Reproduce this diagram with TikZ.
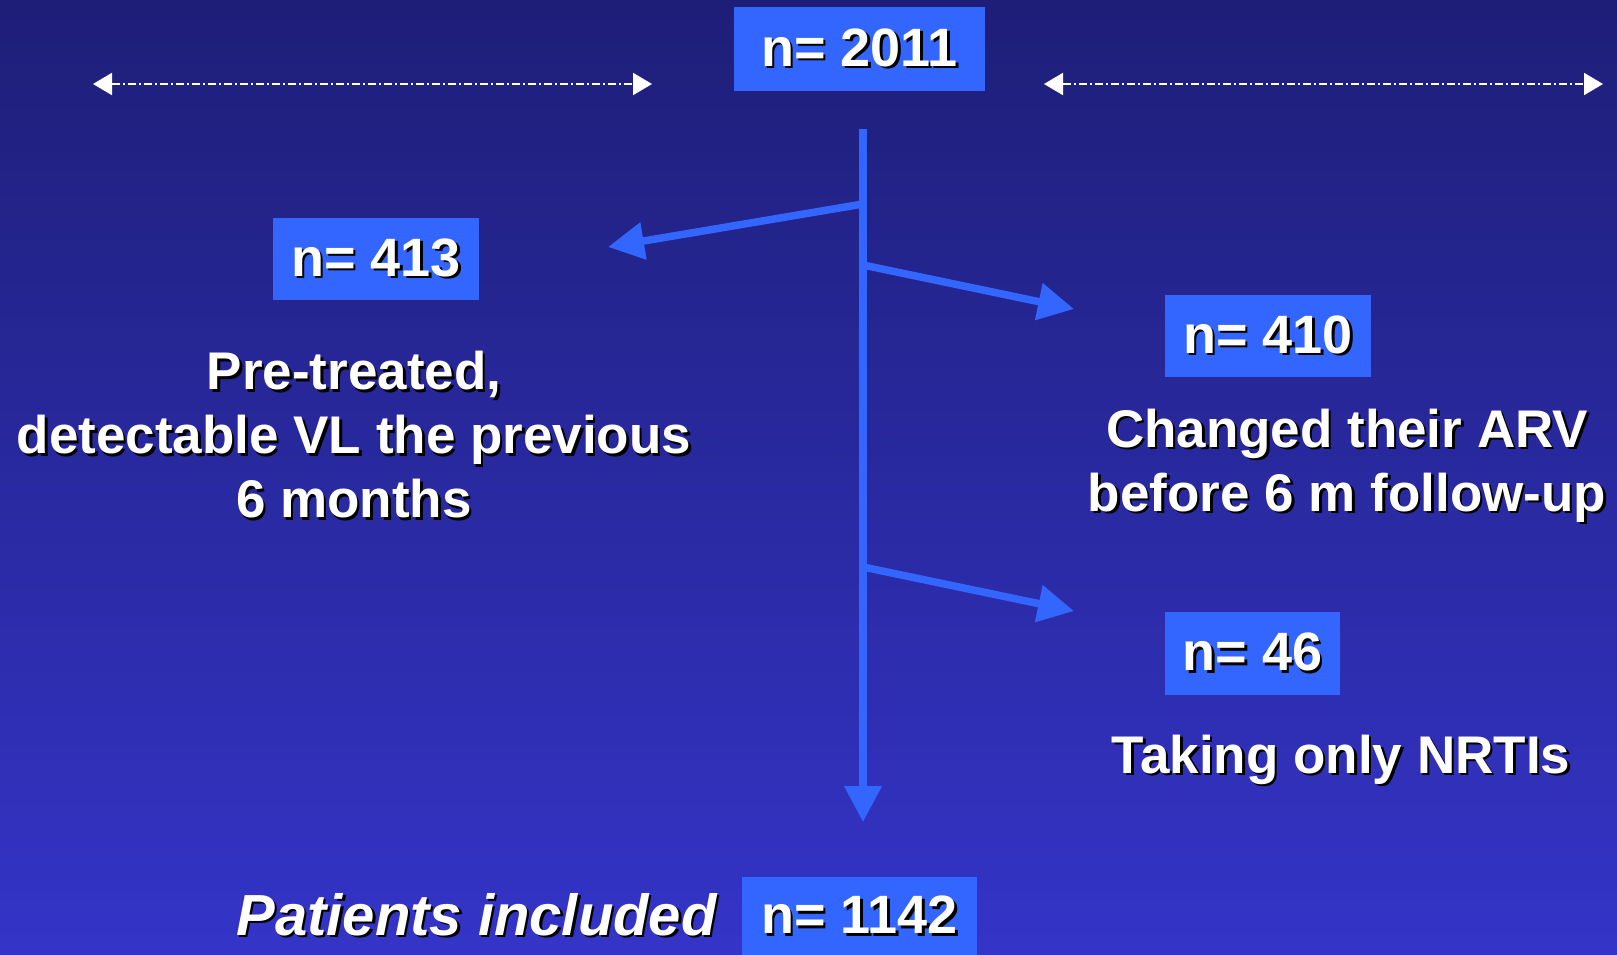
\documentclass[tikz,border=0pt]{standalone}
\usepackage{fontspec}
\setmainfont{Liberation Sans}
\usepackage{tikz}
\usetikzlibrary{arrows.meta, positioning, calc}
\definecolor{bgTop}{RGB}{30,30,120}
\definecolor{bgBottom}{RGB}{52,52,200}
\definecolor{boxBlue}{RGB}{51,102,255}
\newcommand{\shd}[1]{\leavevmode\rlap{\kern2.5pt\raisebox{-2.5pt}{\color{black}#1}}#1}
\tikzstyle{countbox} = [rectangle, fill=boxBlue, text=white, inner sep=0pt, font=\fontsize{54}{64}\selectfont\bfseries]
\tikzstyle{note} = [align=center, text=white, inner sep=0pt, font=\fontsize{53}{64}\selectfont\bfseries]
\tikzstyle{flow} = [line width=7.5pt, draw=boxBlue, -{Triangle[length=36pt,width=36pt]}]
\tikzstyle{spanarrow} = [draw=white, line width=2pt, dash pattern=on 8pt off 3pt on 2pt off 3pt, {Triangle[length=19pt,width=22pt]}-{Triangle[length=19pt,width=22pt]}]

\begin{document}
\begin{tikzpicture}[x=1pt, y=-1pt]
            \useasboundingbox (0,0) rectangle (1617,955);
            \shade[top color=bgTop, bottom color=bgBottom] (0,0) rectangle (1617,955);

            % Top count and time spans
            \node (total) [countbox, minimum width=251pt, minimum height=84pt] at (859.5,49) {\shd{n= 2011}\hspace{16pt}};
            \coordinate (spanLa) at (93,84);
            \coordinate (spanLb) at (652,84);
            \coordinate (spanRa) at (1044,84);
            \coordinate (spanRb) at (1603,84);
            \draw [spanarrow] (spanLa) -- (spanLb);
            \draw [spanarrow] (spanRa) -- (spanRb);

            % Excluded
            \node (pre) [countbox, minimum width=206pt, minimum height=82pt] at (376,259) {\shd{n= 413}};
            \node (preText) [note] at (354,436) {\shd{Pre-treated,}\\ \shd{detectable VL the previous}\\ \shd{6 months}};
            \node (chg) [countbox, minimum width=206pt, minimum height=82pt] at (1268,336) {\shd{n= 410}};
            \node (chgText) [note] at (1347,467) {\shd{Changed their ARV}\\ \shd{before 6 m follow-up}};
            \node (nrti) [countbox, minimum width=175pt, minimum height=83pt] at (1252.5,653.5) {\shd{n= 46}};
            \node (nrtiText) [note] at (1341,761) {\shd{Taking only NRTIs}};

            % Included
            \node (incl) [countbox, minimum width=235pt, minimum height=78pt] at (859.5,916) {\shd{n= 1142}};
            \node (inclText) [note, font=\fontsize{58}{64}\selectfont\bfseries\itshape, left=25pt of incl] {\shd{Patients included}};

            % Flow
            \coordinate (trunkTop) at (863,129);
            \coordinate (trunkEnd) at (863,822);
            \coordinate (forkPre) at (863,204);
            \coordinate (forkChg) at (863,265);
            \coordinate (forkNrti) at (863,567);
            \coordinate (tipPre) at (608,247);
            \coordinate (tipChg) at (1074,309);
            \coordinate (tipNrti) at (1074,611);
            \draw [flow] (trunkTop) -- (trunkEnd);
            \draw [flow] (forkPre) -- (tipPre);
            \draw [flow] (forkChg) -- (tipChg);
            \draw [flow] (forkNrti) -- (tipNrti);
        \end{tikzpicture}
\end{document}
